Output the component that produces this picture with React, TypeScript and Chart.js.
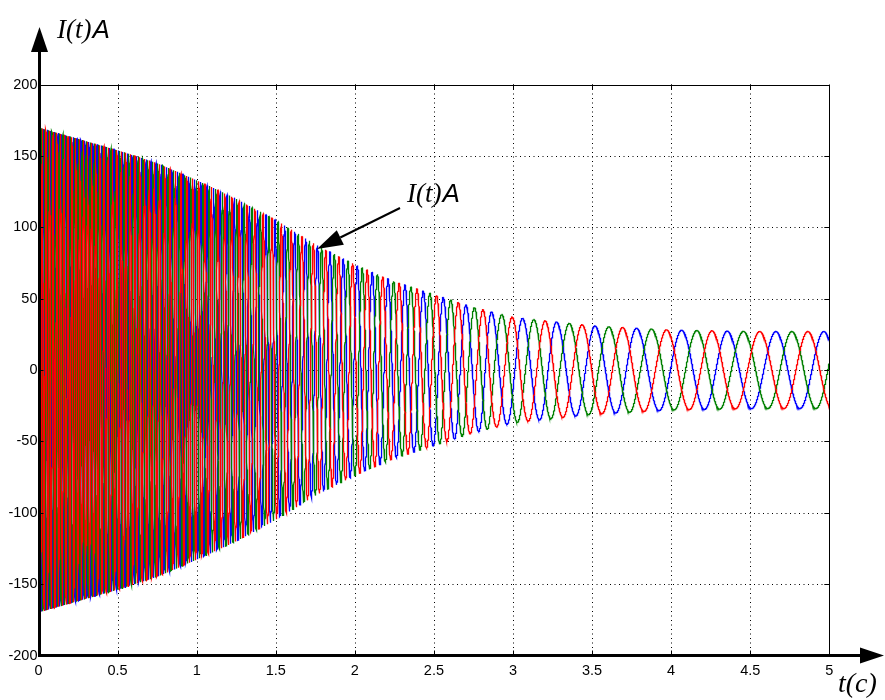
import React, { useEffect, useRef } from "react";
import { Chart, registerables } from "chart.js";

Chart.register(...registerables);

// ---- values ----
// amplitude envelope of the three phase currents (A) at given times (s)
const envelopeTimes = [0, 0.25, 0.5, 0.75, 1.0, 1.25, 1.5, 1.75, 2.0, 2.25, 2.5, 2.75, 3.0, 3.5, 4.0, 4.5, 5.0];
const envelopeAmps = [170, 162, 154, 145, 133, 120, 105, 88, 74, 62, 53, 44, 37, 31, 28, 27, 27];
// estimated oscillation frequency (Hz) in the dense part of the record
const earlyFreqTimes = [0, 0.5, 1.0, 1.5, 1.75, 2.0, 2.433];
const earlyFreqHz = [45, 36, 26, 17, 13, 11, 8.3];
// times (s) of the blue-phase peaks read in the sparse part of the record
const bluePeakTimes = [2.433, 2.559, 2.703, 2.865, 3.061, 3.276, 3.519, 3.782, 4.067, 4.355, 4.663, 4.966];
// phase series: name, colour, lag in cycles behind the blue phase
const phaseNames = ["Ic", "Ib", "Ia"];
const phaseColors = ["#ff0000", "#008000", "#0000ff"];
const phaseLags = [2 / 3, 1 / 3, 0];

const xTickValues = [0, 0.5, 1, 1.5, 2, 2.5, 3, 3.5, 4, 4.5, 5];
const xTickLabels = ["0", "0.5", "1", "1.5", "2", "2.5", "3", "3.5", "4", "4.5", "5"];
const yTickValues = [-200, -150, -100, -50, 0, 50, 100, 150, 200];
const yTickLabels = ["-200", "-150", "-100", "-50", "0", "50", "100", "150", "200"];

const axisTitle = "I(t)";
const axisTitleUnit = "A";
const timeTitle = "t(c)";

function lerp(xs: number[], ys: number[], t: number): number {
  if (t <= xs[0]) return ys[0];
  for (let i = 1; i < xs.length; i++) {
    if (t <= xs[i]) {
      const f = (t - xs[i - 1]) / (xs[i] - xs[i - 1]);
      return ys[i - 1] + f * (ys[i] - ys[i - 1]);
    }
  }
  return ys[ys.length - 1];
}

function cyclesAfterFirstPeak(t: number): number {
  const p = bluePeakTimes;
  for (let k = 0; k < p.length - 1; k++) {
    if (t >= p[k] && t < p[k + 1]) return k + (t - p[k]) / (p[k + 1] - p[k]);
  }
  const last = p.length - 1;
  const per = p[last] - p[last - 1];
  return last + (t - p[last]) / per;
}

function buildSeries() {
  const N = 12000;
  const dt = 5 / N;
  const times: number[] = [];
  for (let i = 0; i <= N; i++) times.push(i * dt);
  const cycles: number[] = new Array(N + 1);
  const t0 = bluePeakTimes[0];
  let idx0 = 0;
  while (idx0 <= N && times[idx0] < t0) idx0++;
  for (let i = idx0; i <= N; i++) cycles[i] = cyclesAfterFirstPeak(times[i]);
  for (let i = idx0 - 1; i >= 0; i--) {
    const mid = (times[i] + times[i + 1]) / 2;
    cycles[i] = cycles[i + 1] - lerp(earlyFreqTimes, earlyFreqHz, mid) * dt;
  }
  return phaseLags.map((lag) =>
    times.map((t, i) => ({
      x: t,
      y: lerp(envelopeTimes, envelopeAmps, t) * Math.cos(2 * Math.PI * (cycles[i] - lag)),
    }))
  );
}

const frame = {
  id: "frame",
  beforeDatasetsDraw(chart: any) {
    const ctx = chart.ctx;
    const xs = chart.scales.x;
    const ys = chart.scales.y;
    const { left, right, top, bottom } = chart.chartArea;
    ctx.save();
    ctx.strokeStyle = "#000";
    ctx.lineWidth = 1;
    ctx.setLineDash([1, 3.5]);
    xTickValues.slice(1, -1).forEach((v) => {
      const x = Math.round(xs.getPixelForValue(v)) + 0.5;
      ctx.beginPath();
      ctx.moveTo(x, top);
      ctx.lineTo(x, bottom);
      ctx.stroke();
    });
    yTickValues.slice(1, -1).forEach((v) => {
      const y = Math.round(ys.getPixelForValue(v)) + 0.5;
      ctx.beginPath();
      ctx.moveTo(left, y);
      ctx.lineTo(right, y);
      ctx.stroke();
    });
    ctx.restore();
  },
  afterDraw(chart: any) {
    const ctx = chart.ctx;
    const xs = chart.scales.x;
    const ys = chart.scales.y;
    const { left, right, top, bottom } = chart.chartArea;
    ctx.save();
    ctx.setLineDash([]);
    ctx.strokeStyle = "#000";
    ctx.fillStyle = "#000";
    // thin top and right borders
    ctx.lineWidth = 1;
    ctx.beginPath();
    ctx.moveTo(left, Math.round(top) + 0.5);
    ctx.lineTo(Math.round(right) + 0.5, Math.round(top) + 0.5);
    ctx.lineTo(Math.round(right) + 0.5, bottom);
    ctx.stroke();
    // inward tick marks
    const tl = 5;
    xTickValues.forEach((v) => {
      const x = Math.round(xs.getPixelForValue(v)) + 0.5;
      ctx.beginPath();
      ctx.moveTo(x, top);
      ctx.lineTo(x, top + tl);
      ctx.moveTo(x, bottom);
      ctx.lineTo(x, bottom - tl);
      ctx.stroke();
    });
    yTickValues.forEach((v) => {
      const y = Math.round(ys.getPixelForValue(v)) + 0.5;
      ctx.beginPath();
      ctx.moveTo(left, y);
      ctx.lineTo(left + tl, y);
      ctx.moveTo(right, y);
      ctx.lineTo(right - tl, y);
      ctx.stroke();
    });
    // thick axes with arrows
    ctx.lineWidth = 3;
    ctx.beginPath();
    ctx.moveTo(left + 1, bottom + 1.5);
    ctx.lineTo(left + 1, 50);
    ctx.stroke();
    ctx.beginPath();
    ctx.moveTo(left - 0.5, bottom);
    ctx.lineTo(862, bottom);
    ctx.stroke();
    ctx.beginPath();
    ctx.moveTo(left + 1, 27);
    ctx.lineTo(left + 9.5, 52);
    ctx.lineTo(left - 7.5, 52);
    ctx.closePath();
    ctx.fill();
    ctx.beginPath();
    ctx.moveTo(884, bottom);
    ctx.lineTo(860, bottom - 8);
    ctx.lineTo(860, bottom + 8);
    ctx.closePath();
    ctx.fill();
    // annotation arrow
    const ax0 = 400, ay0 = 208, ax1 = 317, ay1 = 249;
    const ang = Math.atan2(ay1 - ay0, ax1 - ax0);
    const hl = 26, hw = 8;
    const bx = ax1 - hl * Math.cos(ang), by = ay1 - hl * Math.sin(ang);
    ctx.lineWidth = 2;
    ctx.beginPath();
    ctx.moveTo(ax0, ay0);
    ctx.lineTo(bx, by);
    ctx.stroke();
    ctx.beginPath();
    ctx.moveTo(ax1, ay1);
    ctx.lineTo(bx + hw * Math.sin(ang), by - hw * Math.cos(ang));
    ctx.lineTo(bx - hw * Math.sin(ang), by + hw * Math.cos(ang));
    ctx.closePath();
    ctx.fill();
    // titles
    const drawTitle = (x: number, y: number) => {
      ctx.textBaseline = "alphabetic";
      ctx.textAlign = "left";
      ctx.font = "italic 27px 'Liberation Serif', 'Times New Roman', serif";
      ctx.fillText(axisTitle, x, y);
      const w = ctx.measureText(axisTitle).width;
      ctx.font = "italic 26px 'Liberation Sans', Arial, sans-serif";
      ctx.fillText(axisTitleUnit, x + w + 1, y);
    };
    drawTitle(57, 38);
    drawTitle(407, 202);
    ctx.font = "italic 28px 'Liberation Serif', 'Times New Roman', serif";
    ctx.textAlign = "left";
    ctx.fillText(timeTitle, 838, 692);
    ctx.restore();
  },
};

export default function App() {
  const ref = useRef<HTMLCanvasElement | null>(null);
  useEffect(() => {
    if (!ref.current) return;
    const series = buildSeries();
    const chart = new Chart(ref.current, {
      type: "line",
      data: {
        datasets: series.map((d, i) => ({
          label: phaseNames[i],
          data: d,
          borderColor: phaseColors[i],
          borderWidth: 1.3,
          pointRadius: 0,
          fill: false,
          tension: 0,
        })),
      },
      options: {
        animation: false,
        responsive: false,
        devicePixelRatio: 1,
        parsing: false,
        normalized: true,
        events: [],
        layout: { padding: { top: 84.5, right: 55.7, left: 0, bottom: 0 } },
        plugins: { legend: { display: false }, tooltip: { enabled: false } },
        scales: {
          x: {
            type: "linear",
            min: 0,
            max: 5,
            grid: { display: false, drawTicks: false },
            border: { display: false },
            afterBuildTicks: (s: any) => {
              s.ticks = xTickValues.map((v) => ({ value: v }));
            },
            afterFit: (s: any) => {
              s.height = 44.5;
            },
            ticks: {
              autoSkip: false,
              maxRotation: 0,
              padding: 6.5,
              color: "#000",
              font: { family: "'Liberation Sans', Arial, sans-serif", size: 14.5 },
              callback: (_v: any, i: number) => xTickLabels[i],
            },
          },
          y: {
            type: "linear",
            min: -200,
            max: 200,
            grid: { display: false, drawTicks: false },
            border: { display: false },
            afterBuildTicks: (s: any) => {
              s.ticks = yTickValues.map((v) => ({ value: v }));
            },
            afterFit: (s: any) => {
              s.width = 38.5;
            },
            ticks: {
              autoSkip: false,
              padding: 1,
              color: "#000",
              font: { family: "'Liberation Sans', Arial, sans-serif", size: 14.5 },
              callback: (_v: any, i: number) => yTickLabels[i],
            },
          },
        },
      },
      plugins: [frame],
    } as any);
    return () => chart.destroy();
  }, []);
  return (
    <div style={{ position: "absolute", left: 0, top: 0, width: 885, height: 700, background: "#fff" }}>
      <canvas ref={ref} width={885} height={700} style={{ width: 885, height: 700, display: "block" }} />
    </div>
  );
}
